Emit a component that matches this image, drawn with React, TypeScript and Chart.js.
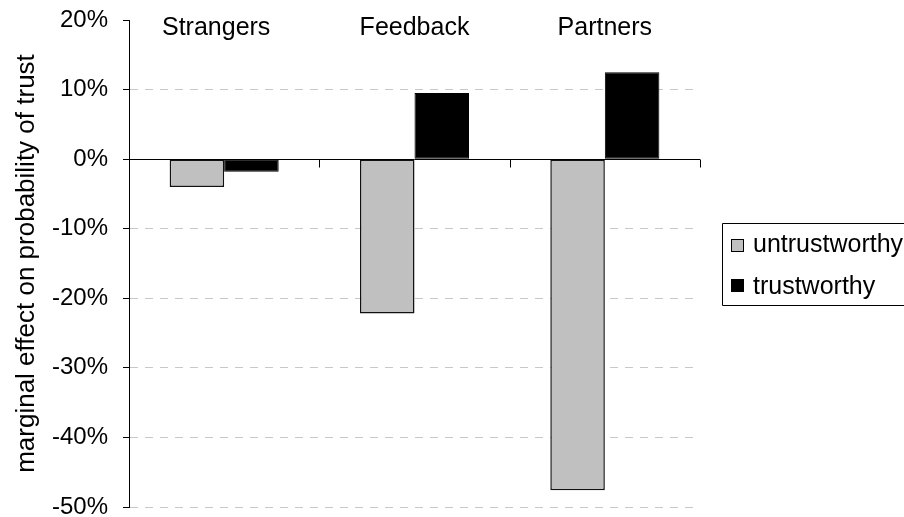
import React, { useEffect, useRef } from "react";
import { Chart, registerables } from "chart.js";

Chart.register(...registerables);

const categories = ["Strangers", "Feedback", "Partners"];
const untrustworthy = [-4.0, -22.2, -47.6];
const trustworthy = [-1.8, 9.5, 12.5];
const seriesNames = ["untrustworthy", "trustworthy"];
const yMin = -50;
const yMax = 20;
const yStep = 10;
const yTitle = "marginal effect on probability of trust";

const FONT = '"Liberation Sans", Arial, sans-serif';

const overlay = {
  id: "overlay",
  afterDatasetsDraw(chart: any) {
    const { ctx, chartArea, scales } = chart;
    const x = scales.x;
    const y = scales.y;
    const n = chart.data.labels.length;
    const y0 = Math.round(y.getPixelForValue(0)) + 0.5;
    ctx.save();
    ctx.strokeStyle = "#000";
    ctx.lineWidth = 1;
    ctx.setLineDash([]);
    ctx.beginPath();
    ctx.moveTo(chartArea.left, y0);
    ctx.lineTo(chartArea.right, y0);
    for (let i = 0; i <= n; i++) {
      const px = Math.round(x.getPixelForValue(i - 0.5)) + 0.5;
      ctx.moveTo(px, y0);
      ctx.lineTo(px, y0 + 8);
    }
    ctx.stroke();
    ctx.fillStyle = "#000";
    ctx.font = `25px ${FONT}`;
    ctx.textAlign = "center";
    ctx.textBaseline = "alphabetic";
    for (let i = 0; i < n; i++) {
      ctx.fillText(chart.data.labels[i], x.getPixelForValue(i) - (i === 0 ? 8 : 0), chartArea.top + 15);
    }
    ctx.restore();
  },
  afterDraw(chart: any) {
    const { ctx, chartArea } = chart;
    const cy = (chartArea.top + chartArea.bottom) / 2;
    const left = chartArea.right + 22;
    ctx.save();
    ctx.strokeStyle = "#000";
    ctx.lineWidth = 1;
    ctx.fillStyle = "#fff";
    ctx.beginPath();
    ctx.rect(Math.round(left) + 0.5, Math.round(cy - 41) + 0.5, 300, 82);
    ctx.fill();
    ctx.stroke();
    const ds = chart.data.datasets;
    const tops = [cy - 25, cy + 15];
    const bases = [cy - 12, cy + 30];
    ctx.font = `25px ${FONT}`;
    ctx.textAlign = "left";
    ctx.textBaseline = "alphabetic";
    for (let i = 0; i < ds.length; i++) {
      const mx = Math.round(chartArea.right + 31) + 0.5;
      const my = Math.round(tops[i]) + 0.5;
      ctx.fillStyle = ds[i].backgroundColor;
      ctx.fillRect(mx, my, 12, 12);
      ctx.strokeStyle = "#000";
      ctx.strokeRect(mx, my, 12, 12);
      ctx.fillStyle = "#000";
      ctx.fillText(ds[i].label, chartArea.right + 53, bases[i]);
    }
    ctx.restore();
  },
};

export default function App() {
  const ref = useRef<HTMLCanvasElement | null>(null);
  useEffect(() => {
    if (!ref.current) return;
    Chart.defaults.font.family = FONT;
    Chart.defaults.color = "#000";
    const chart = new Chart(ref.current, {
      type: "bar",
      data: {
        labels: categories,
        datasets: [
          {
            label: seriesNames[0],
            data: untrustworthy,
            backgroundColor: "#c0c0c0",
            borderColor: "#111",
            borderWidth: 1.5,
            borderSkipped: false,
            categoryPercentage: 0.573,
            barPercentage: 1,
          },
          {
            label: seriesNames[1],
            data: trustworthy,
            backgroundColor: "#000",
            borderColor: "#000",
            borderWidth: 1,
            borderSkipped: false,
            categoryPercentage: 0.573,
            barPercentage: 1,
          },
        ],
      },
      options: {
        animation: false,
        responsive: false,
        maintainAspectRatio: false,
        layout: { padding: { top: 20, bottom: 10, left: 0, right: 204 } },
        plugins: { legend: { display: false }, tooltip: { enabled: false } },
        scales: {
          x: { display: false, offset: true },
          y: {
            min: yMin,
            max: yMax,
            afterFit: (scale: any) => {
              scale.width = 129;
              scale.paddingTop = 0;
              scale.paddingBottom = 0;
            },
            ticks: {
              stepSize: yStep,
              padding: 15,
              color: "#000",
              font: { size: 24 },
              callback: (v: any) => `${v}%`,
            },
            grid: {
              drawOnChartArea: true,
              tickLength: 6,
              tickColor: "#000",
              tickWidth: 1,
              lineWidth: 1,
              color: (ctx: any) => {
                const v = ctx.tick ? ctx.tick.value : null;
                if (v === yMax || v === 0) return "rgba(0,0,0,0)";
                return "#c8c8c8";
              },
            },
            border: {
              display: true,
              color: "#000",
              width: 1,
              dash: (ctx: any) => (ctx.type === "tick" ? [8, 7] : []),
            },
            title: {
              display: true,
              text: yTitle,
              color: "#000",
              font: { size: 26 },
              padding: { top: 11, bottom: 0 },
            },
          },
        },
      },
      plugins: [overlay],
    });
    return () => chart.destroy();
  }, []);
  return (
    <div style={{ position: "absolute", left: 0, top: 0, width: 904, height: 517, overflow: "hidden", background: "#fff" }}>
      <canvas ref={ref} width={904} height={517} style={{ display: "block", width: 904, height: 517 }} />
    </div>
  );
}
